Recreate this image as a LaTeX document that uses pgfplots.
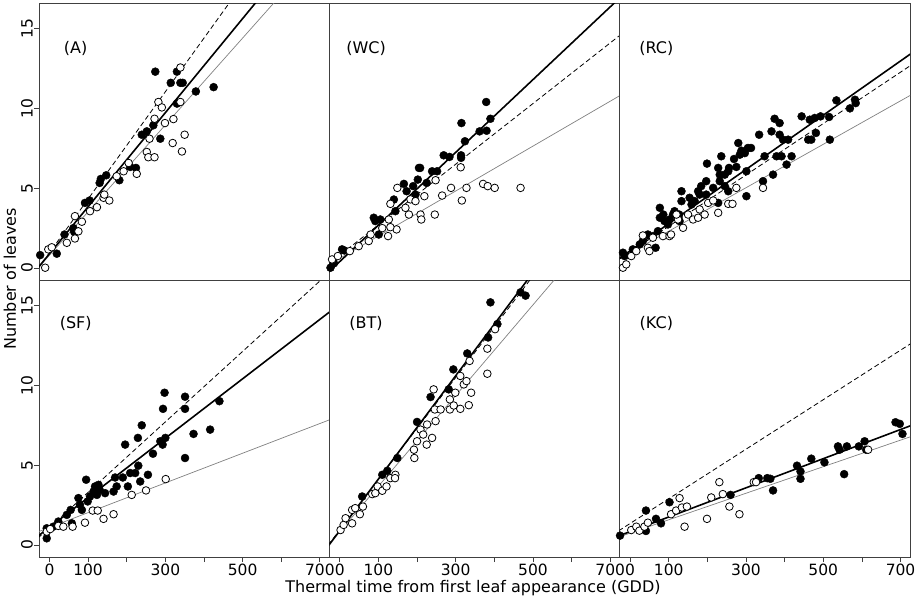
\documentclass[border=0pt]{standalone}
\usepackage{pgfplots}
\pgfplotsset{compat=1.18}
\usepackage{fontspec}
\setmainfont{DejaVu Sans}
\pgfplotsset{
  panel/.style={scale only axis, width=290.33pt, height=277pt,
    xmin=-27, xmax=724.5, ymin=-0.75, ymax=16.6,
    axis line style={black!75, line width=0.9pt},
    tick style={black!75, line width=0.8pt},
    tick align=outside, major tick length=5pt, tick pos=left,
    xtick=\empty, ytick=\empty, clip=true,
    /pgf/number format/assume math mode=true,
    tick label style={font=\fontsize{15.5}{18}\selectfont},
    anchor=north west},
  leftcol/.style={ytick={0,5,10,15}, yticklabels={0,5,10,15},
    yticklabel style={rotate=90, anchor=south, inner sep=1pt}},
  bottomrow/.style={xtick={0,100,200,300,400,500,600,700}, xticklabels={0,100,,300,,500,,700},
    xticklabel style={anchor=north, inner sep=2pt}},
  filled/.style={only marks, mark=*, mark size=4pt, mark options={fill=black, draw=black}},
  open/.style={only marks, mark=*, mark size=3.8pt, mark options={fill=white, draw=black, line width=0.8pt}},
  fitA/.style={black, line width=1.6pt, no marks},
  fitD/.style={black, line width=0.8pt, dash pattern=on 5pt off 3pt, no marks},
  fitG/.style={black!50, line width=0.7pt, no marks},
}
\begin{document}
\begin{tikzpicture}[font=\fontsize{16}{19}\selectfont]
\path[use as bounding box] (0,0) rectangle (916pt,-598pt);

% ---------- (A)
\begin{axis}[panel, leftcol, at={(39pt,-3pt)}]
\addplot[filled] coordinates {(-24,0.81)(19,0.9)(39,2.1)(64,2.27)(62,2.5)(92,4.08)(104,4.23)(130,5.33)(133,5.58)(147,5.81)(181,5.5)(209,6.33)(224,6.27)(239,8.35)(252,8.56)(269,8.94)(274,12.3)(287,8.1)(314,11.6)(330,12.3)(330,10.3)(339,11.6)(345,11.6)(379,11.06)(425,11.33)};
\addplot[open] coordinates {(-11,0.02)(-3,1.17)(6,1.3)(45,1.58)(66,1.85)(66,3.25)(75,2.3)(84,2.9)(105,3.56)(123,3.81)(140,4.4)(155,4.23)(142,4.6)(174,5.75)(192,6.06)(205,6.58)(226,5.9)(252,7.27)(256,6.94)(272,6.94)(272,9.35)(259,8.1)(282,10.4)(291,10.06)(299,9.08)(321,9.33)(319,7.83)(339,12.56)(339,10.4)(343,7.3)(350,8.35)};
\addplot[fitG] coordinates {(-30,-0.016)(730,20.66)};
\addplot[fitD] coordinates {(-30,-0.05)(730,25.49)};
\addplot[fitA] coordinates {(-30,0.005)(730,22.4)};
\node at (axis cs:68,13.75) {(A)};
\end{axis}

% ---------- (WC)
\begin{axis}[panel, at={(329.33pt,-3pt)}]
\addplot[filled] coordinates {(-24,0.02)(-15,0.3)(6,1.17)(12,1.1)(88,3.15)(92,2.94)(105,3.04)(101,2.1)(140,4.29)(144,3.56)(166,5.27)(173,4.81)(190,5.13)(196,4.6)(205,6.27)(208,6.27)(202,5.54)(225,5.33)(239,6.06)(252,6.06)(269,7.06)(284,6.96)(314,7.06)(314,6.9)(315,9.08)(324,7.94)(362,8.56)(380,8.6)(379,10.4)(390,9.35)};
\addplot[open] coordinates {(-20,0.54)(-5,0.75)(26,1.06)(49,1.37)(75,1.69)(80,2.1)(125,2.0)(147,2.42)(131,2.56)(110,2.5)(127,3.04)(131,4.02)(149,5.02)(170,3.77)(179,3.35)(183,4.3)(196,4.19)(209,3.35)(211,3.04)(219,4.5)(246,3.35)(248,5.5)(265,4.54)(288,5.02)(313,6.31)(316,4.23)(328,5.02)(371,5.27)(383,5.13)(401,5.02)(468,5.02)};
\addplot[fitG] coordinates {(-30,0.18)(730,10.87)};
\addplot[fitD] coordinates {(-30,0.23)(730,14.67)};
\addplot[fitA] coordinates {(-30,-0.28)(730,17.04)};
\node at (axis cs:68,13.75) {(WC)};
\end{axis}

% ---------- (RC)
\begin{axis}[panel, at={(619.67pt,-3pt)}]
\addplot[filled] coordinates {(-18.5,0.96)(-14,0.75)(7,1.17)(25,1.48)(33,1.7)(46,2.1)(59,2.0)(66,1.27)(72,2.31)(77,3.15)(77,3.77)(86,3.35)(89,2.94)(98,2.73)(102,3.04)(111,3.35)(115,3.56)(127,3.35)(128,2.94)(133,4.19)(133,4.81)(154,4.4)(159,3.98)(167,4.19)(176,4.81)(180,4.6)(184,5.13)(197,5.44)(199,6.54)(197,4.6)(215,5.02)(228,6.27)(232,5.85)(236,7.0)(232,5.44)(245,5.85)(245,5.13)(254,6.06)(256,6.27)(254,4.81)(228,4.08)(269,6.83)(275,6.33)(280,7.83)(284,7.1)(288,7.35)(297,7.2)(301,6.06)(305,7.52)(313,7.52)(301,4.5)(334,8.35)(348,7.0)(366,8.56)(370,5.85)(374,9.35)(387,9.08)(387,8.35)(379,7.0)(392,7.0)(396,8.04)(405,6.48)(409,8.04)(418,7.0)(444,9.5)(461,8.04)(465,9.29)(469,8.04)(478,9.4)(481,8.46)(493,9.5)(515,9.46)(517,8.04)(534,10.5)(569,10.0)(582,10.54)(584,10.33)(344,5.44)};
\addplot[open] coordinates {(-18.5,0.02)(-10,0.23)(3,0.75)(16,1.06)(33,2.04)(46,1.27)(50,1.06)(59,1.9)(85,2.0)(102,2.0)(106,2.1)(124,3.04)(137,2.52)(150,3.35)(163,3.04)(176,3.15)(180,3.67)(193,3.35)(202,4.08)(215,4.23)(228,3.46)(254,4.02)(265,4.02)(275,5.02)(344,5.02)(120,3.35)};
\addplot[fitG] coordinates {(-30,0.54)(730,10.88)};
\addplot[fitD] coordinates {(-30,0.52)(730,12.75)};
\addplot[fitA] coordinates {(-30,0.57)(730,13.48)};
\node at (axis cs:68,13.75) {(RC)};
\end{axis}

% ---------- (SF)
\begin{axis}[panel, leftcol, bottomrow, at={(39pt,-280pt)}]
\addplot[filled] coordinates {(-7,0.42)(-7,1.05)(10,1.15)(23,1.47)(45,1.89)(55,2.2)(58,1.36)(75,2.94)(79,2.52)(84,2.2)(95,4.09)(99,2.73)(105,3.04)(114,3.35)(118,3.67)(123,3.14)(127,3.77)(130,3.46)(144,3.25)(166,3.35)(170,4.23)(174,3.67)(190,4.23)(196,6.29)(203,3.67)(209,4.51)(222,4.51)(229,6.71)(230,4.97)(235,3.98)(239,7.5)(255,4.4)(268,5.72)(287,6.5)(294,8.53)(293,6.29)(298,9.54)(300,6.71)(351,9.29)(351,8.53)(351,5.45)(373,6.96)(416,7.23)(440,9.01)};
\addplot[open] coordinates {(-7,0.84)(2,1.0)(23,1.2)(36,1.15)(60,1.15)(92,1.4)(112,2.16)(125,2.16)(140,1.64)(166,1.93)(213,3.14)(250,3.42)(301,4.13)};
\addplot[fitG] coordinates {(-30,0.82)(730,7.89)};
\addplot[fitD] coordinates {(-30,0.43)(730,17.2)};
\addplot[fitA] coordinates {(-30,0.55)(730,14.69)};
\node at (axis cs:68,13.85) {(SF)};
\end{axis}

% ---------- (BT)
\begin{axis}[panel, bottomrow, at={(329.33pt,-280pt)}]
\addplot[filled] coordinates {(58,3.04)(110,4.4)(123,4.65)(149,5.45)(200,7.71)(235,9.27)(282,9.75)(294,11.0)(330,12.0)(384,13.0)(390,15.2)(408,13.84)(468,15.83)(481,15.62)};
\addplot[open] coordinates {(2,0.94)(10,1.26)(15,1.68)(32,1.36)(32,2.2)(40,2.31)(52,1.93)(60,2.41)(84,3.19)(92,3.25)(98,3.67)(110,3.4)(121,3.67)(131,4.19)(144,4.4)(143,4.19)(192,5.97)(193,5.45)(200,6.5)(209,7.23)(216,6.92)(225,6.29)(226,7.55)(239,6.71)(243,9.75)(246,8.49)(248,7.76)(261,8.49)(285,8.49)(285,9.12)(295,8.74)(299,9.54)(312,10.59)(312,8.53)(321,10.06)(328,10.27)(334,8.76)(336,11.53)(340,9.54)(382,12.3)(382,10.73)(402,13.52)};
\addplot[fitG] coordinates {(-30,-0.01)(730,21.57)};
\addplot[fitD] coordinates {(-30,-0.004)(730,24.16)};
\addplot[fitA] coordinates {(-30,-0.07)(730,24.5)};
\node at (axis cs:68,13.85) {(BT)};
\end{axis}

% ---------- (KC)
\begin{axis}[panel, bottomrow, at={(619.67pt,-280pt)}]
\addplot[filled] coordinates {(-26,0.59)(41,2.16)(41,0.88)(67,1.64)(80,1.36)(102,2.68)(260,3.14)(333,4.19)(355,4.19)(363,4.15)(370,3.42)(432,4.97)(441,4.61)(441,4.15)(469,5.41)(503,5.18)(538,6.18)(542,5.97)(561,6.18)(554,4.44)(592,6.18)(607,6.5)(611,5.97)(687,7.69)(698,7.59)(705,6.96)};
\addplot[open] coordinates {(3,0.94)(16,1.15)(24,0.9)(37,1.15)(46,1.4)(106,1.93)(119,2.16)(128,2.94)(134,2.35)(141,1.15)(147,2.41)(199,1.64)(210,2.98)(231,3.94)(240,3.19)(257,2.41)(283,1.93)(320,3.94)(326,3.94)(616,5.97)};
\addplot[fitG] coordinates {(-30,0.50)(730,6.82)};
\addplot[fitD] coordinates {(-30,0.885)(730,12.67)};
\addplot[fitA] coordinates {(-30,0.57)(730,7.51)};
\node at (axis cs:68,13.85) {(KC)};
\end{axis}

\node[rotate=90] at (10pt,-279pt) {Number of leaves};
\node at (473pt,-588pt) {Thermal time from first leaf appearance (GDD)};
\end{tikzpicture}
\end{document}
